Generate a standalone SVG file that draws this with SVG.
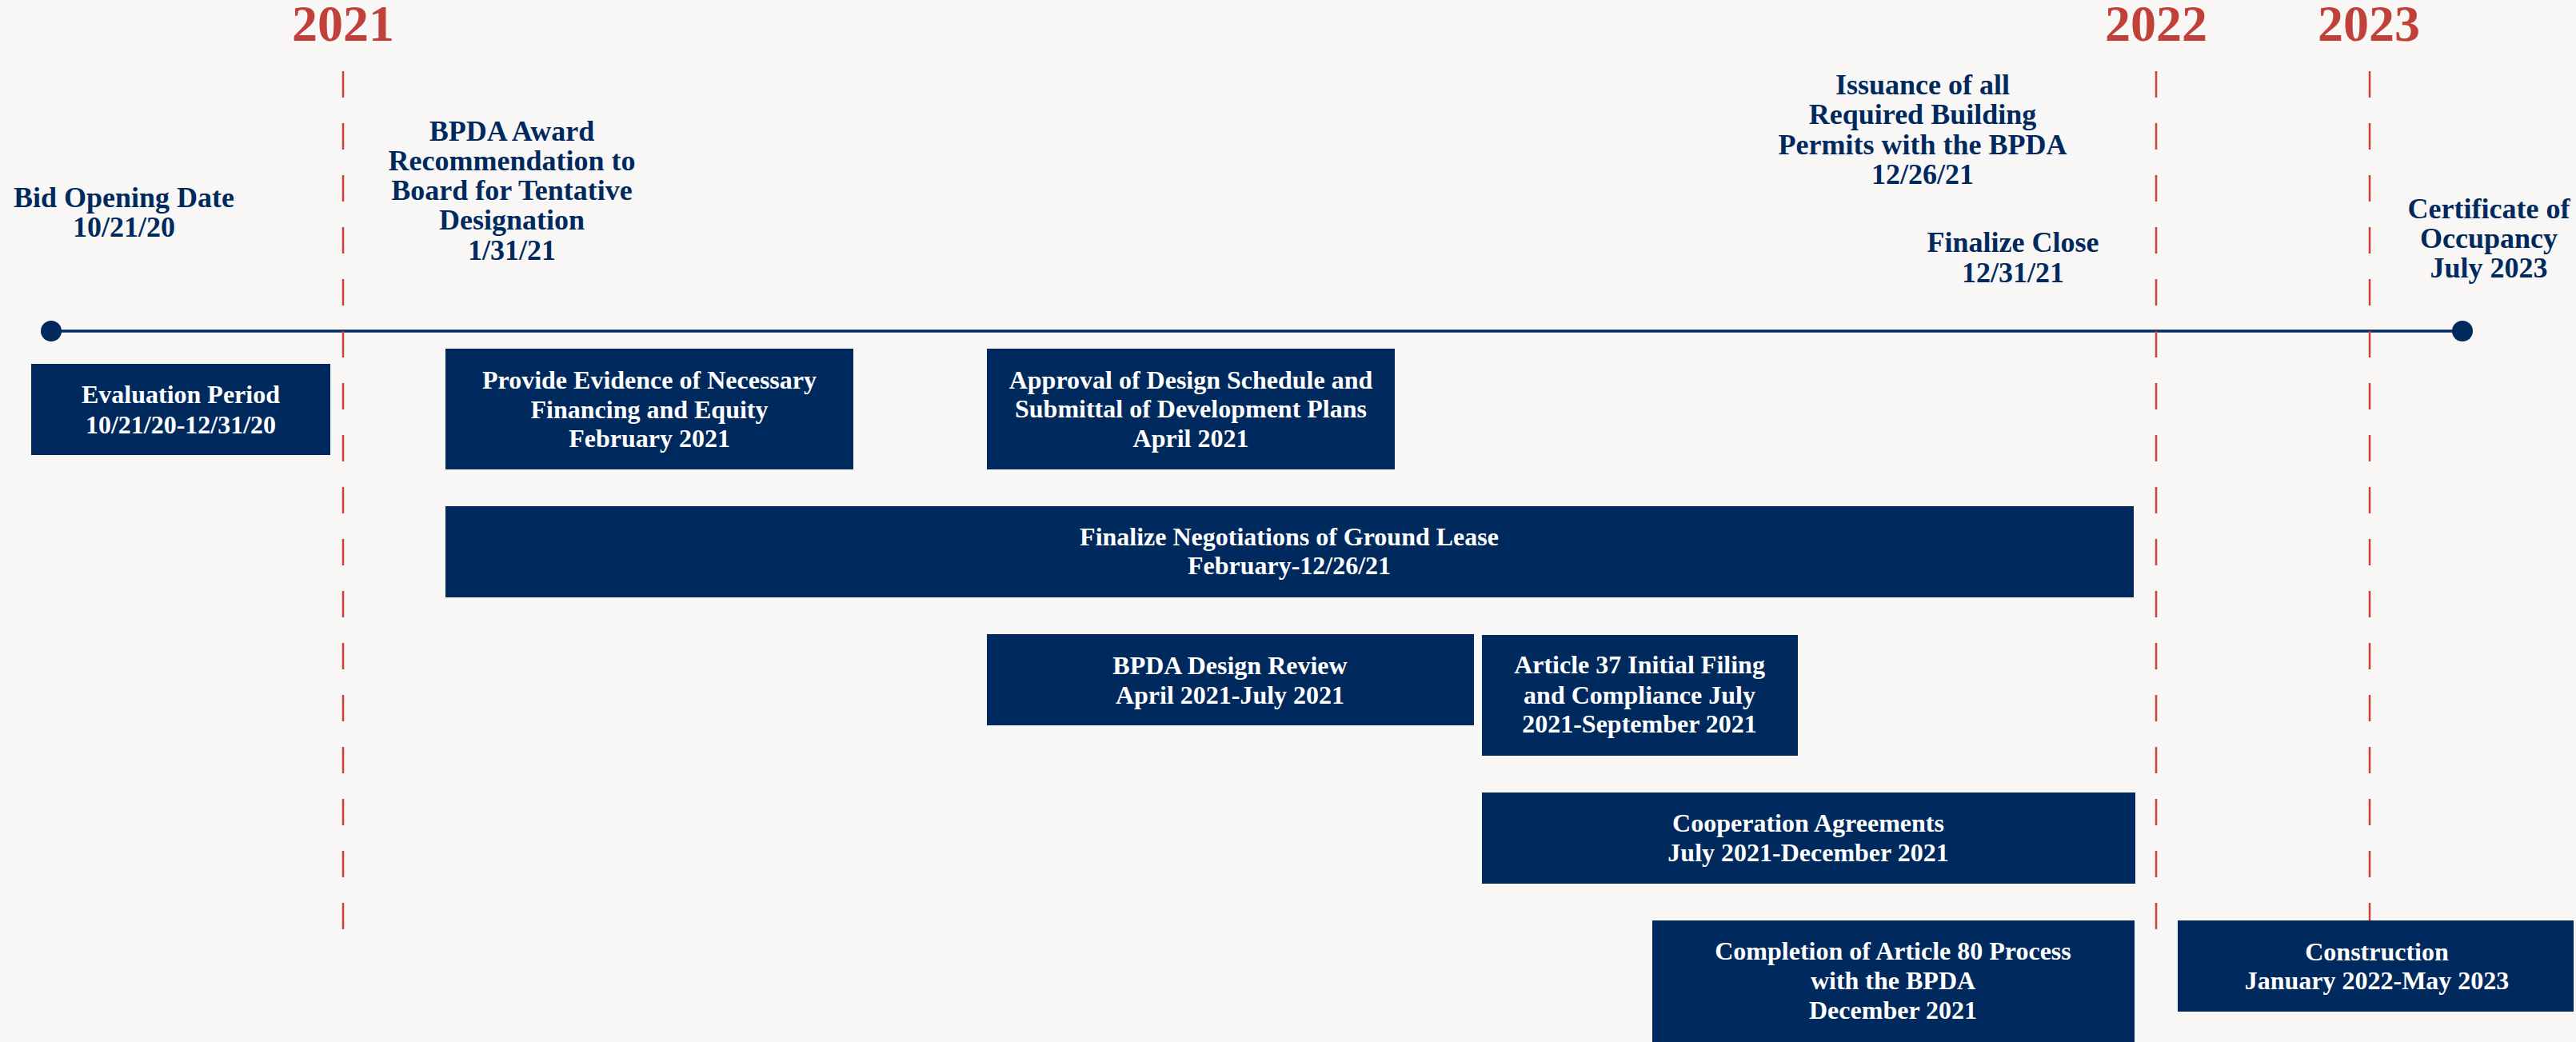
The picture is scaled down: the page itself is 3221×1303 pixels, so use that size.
<svg xmlns="http://www.w3.org/2000/svg" width="3221" height="1303" viewBox="0 0 3221 1303">
<style>
.bg{fill:#F8F7F5}
.year{font-family:"Liberation Serif",serif;font-weight:bold;font-size:64px;fill:#C1403A;text-anchor:middle}
.yl{stroke:#C8413B;stroke-width:2.5;stroke-dasharray:33 32;fill:none}
.axis{stroke:#002A5E;stroke-width:3.5;fill:none}
.dot{fill:#002A5E}
.ms{font-family:"Liberation Serif",serif;font-weight:bold;font-size:36px;fill:#002A5E;text-anchor:middle}
.box{fill:#002A5E}
.bt{font-family:"Liberation Serif",serif;font-weight:bold;font-size:32px;fill:#FFFFFF;text-anchor:middle}
</style>
<rect class="bg" x="0" y="0" width="3221" height="1303"/>
<g id="years">
<text class="year" x="429" y="51">2021</text>
<text class="year" x="2696" y="51">2022</text>
<text class="year" x="2962" y="51">2023</text>
</g>
<g id="connectors">
<line class="axis" x1="64" y1="414" x2="3079" y2="414"/>
<line class="yl" x1="429" y1="89" x2="429" y2="1162"/>
<line class="yl" x1="2696" y1="89" x2="2696" y2="1162"/>
<line class="yl" x1="2963" y1="89" x2="2963" y2="1162"/>
</g>
<g id="start-dot"><circle class="dot" cx="64" cy="414" r="13"/></g>
<g id="end-dot"><circle class="dot" cx="3079" cy="414" r="13"/></g>
<g id="bid-opening">
<text class="ms" x="155" y="259">Bid Opening Date</text>
<text class="ms" x="155" y="296">10/21/20</text>
</g>
<g id="bpda-award">
<text class="ms" x="640" y="176">BPDA Award</text>
<text class="ms" x="640" y="213">Recommendation to</text>
<text class="ms" x="640" y="250">Board for Tentative</text>
<text class="ms" x="640" y="287">Designation</text>
<text class="ms" x="640" y="325">1/31/21</text>
</g>
<g id="issuance">
<text class="ms" x="2404" y="118">Issuance of all</text>
<text class="ms" x="2404" y="155">Required Building</text>
<text class="ms" x="2404" y="193">Permits with the BPDA</text>
<text class="ms" x="2404" y="230">12/26/21</text>
</g>
<g id="finalize-close">
<text class="ms" x="2517" y="315">Finalize Close</text>
<text class="ms" x="2517" y="353">12/31/21</text>
</g>
<g id="certificate">
<text class="ms" x="3112" y="273">Certificate of</text>
<text class="ms" x="3112" y="310">Occupancy</text>
<text class="ms" x="3112" y="347">July 2023</text>
</g>
<g id="evaluation">
<rect class="box" x="39" y="455" width="374" height="114"/>
<text class="bt" x="226" y="504">Evaluation Period</text>
<text class="bt" x="226" y="542">10/21/20-12/31/20</text>
</g>
<g id="financing">
<rect class="box" x="557" y="436" width="510" height="151"/>
<text class="bt" x="812" y="486">Provide Evidence of Necessary</text>
<text class="bt" x="812" y="523">Financing and Equity</text>
<text class="bt" x="812" y="559">February 2021</text>
</g>
<g id="approval">
<rect class="box" x="1234" y="436" width="510" height="151"/>
<text class="bt" x="1489" y="486">Approval of Design Schedule and</text>
<text class="bt" x="1489" y="522">Submittal of Development Plans</text>
<text class="bt" x="1489" y="559">April 2021</text>
</g>
<g id="ground-lease">
<rect class="box" x="557" y="633" width="2111" height="114"/>
<text class="bt" x="1612" y="682">Finalize Negotiations of Ground Lease</text>
<text class="bt" x="1612" y="718">February-12/26/21</text>
</g>
<g id="design-review">
<rect class="box" x="1234" y="793" width="609" height="114"/>
<text class="bt" x="1538" y="843">BPDA Design Review</text>
<text class="bt" x="1538" y="880">April 2021-July 2021</text>
</g>
<g id="article-37">
<rect class="box" x="1853" y="794" width="395" height="151"/>
<text class="bt" x="2050" y="842">Article 37 Initial Filing</text>
<text class="bt" x="2050" y="880">and Compliance July</text>
<text class="bt" x="2050" y="916">2021-September 2021</text>
</g>
<g id="cooperation">
<rect class="box" x="1853" y="991" width="817" height="114"/>
<text class="bt" x="2261" y="1040">Cooperation Agreements</text>
<text class="bt" x="2261" y="1077">July 2021-December 2021</text>
</g>
<g id="article-80">
<rect class="box" x="2066" y="1151" width="603" height="152"/>
<text class="bt" x="2367" y="1200">Completion of Article 80 Process</text>
<text class="bt" x="2367" y="1237">with the BPDA</text>
<text class="bt" x="2367" y="1274">December 2021</text>
</g>
<g id="construction">
<rect class="box" x="2723" y="1151" width="495" height="114"/>
<text class="bt" x="2972" y="1201">Construction</text>
<text class="bt" x="2972" y="1237">January 2022-May 2023</text>
</g>
</svg>
